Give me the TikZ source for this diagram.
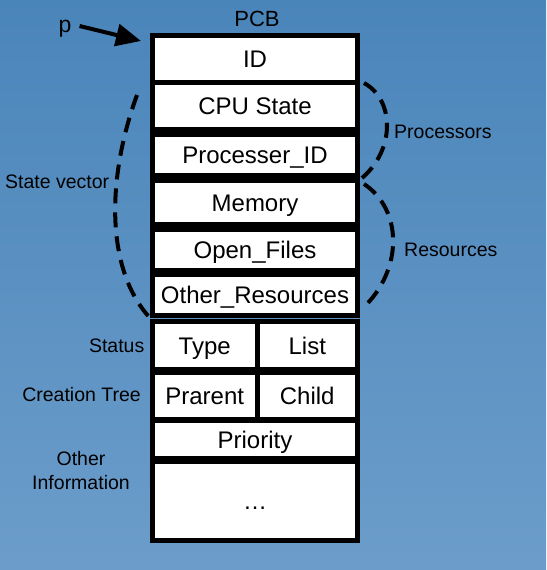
\documentclass[tikz,border=0pt]{standalone}
\usepackage{fontspec}
\setmainfont{Liberation Sans}
\usetikzlibrary{arrows.meta}
\definecolor{bgtop}{HTML}{4A85BA}
\definecolor{bgbot}{HTML}{6C9DCA}
\begin{document}
\begin{tikzpicture}[x=1pt,y=-1pt,
  cell/.style={draw=black, fill=white, line width=5pt, inner sep=0pt,
    font=\fontsize{24}{28}\selectfont, text height=19pt, text depth=1.5pt},
  lbl/.style={inner sep=0pt, font=\fontsize{19.5}{24}\selectfont},
  brace/.style={line width=4pt, dash pattern=on 15pt off 9pt},
  parrow/.style={line width=4pt, -{Triangle[length=25pt,width=22pt]}}]
\useasboundingbox (0,0) rectangle (546,570);
\shade[top color=bgtop, bottom color=bgbot] (0,0) rectangle (546,570);

% cells
\node[cell, minimum width=205pt, minimum height=46.7pt] (id)    at (255,59.15)  {ID};
\node[cell, minimum width=205pt, minimum height=46.7pt] (cpu)   at (255,105.85) {CPU State};
\node[cell, minimum width=205pt, minimum height=41.6pt] (proc)  at (255,155)    {Processer\_ID};
\node[cell, minimum width=205pt, minimum height=43.4pt] (mem)   at (255,202.5)  {Memory};
\node[cell, minimum width=205pt, minimum height=41.6pt] (open)  at (255,250)    {Open\_Files};
\node[cell, minimum width=205pt, minimum height=41.8pt] (other) at (255,294.9)  {Other\_Resources};
\node[cell, minimum width=104.5pt, minimum height=47.7pt] (type) at (204.75,345.35) {Type};
\node[cell, minimum width=100.5pt, minimum height=47.7pt] (list) at (307.25,345.35) {List};
\node[cell, minimum width=104.5pt, minimum height=46.7pt] (parent) at (204.75,395.85) {Prarent};
\node[cell, minimum width=100.5pt, minimum height=46.7pt] (child)  at (307.25,395.85) {Child};
\node[cell, minimum width=205pt, minimum height=38.3pt] (prio)  at (255,439.35) {Priority};
\node[cell, minimum width=205pt, minimum height=79.3pt] (dots)  at (255,501.15) {…};

% titles and labels
\node[inner sep=0pt, font=\fontsize{22}{26}\selectfont] (pcb) at (257,19) {PCB};
\node[inner sep=0pt, font=\fontsize{23}{27}\selectfont] (p) at (65,29) {p};
\coordinate (tip) at (141,41);
\draw[parrow] ([shift={(8,-3)}]p.east) -- (tip);

\node[lbl, anchor=west] (sv) at (5,182) {State vector};
\node[lbl, anchor=west] (procs) at (394,132) {Processors};
\node[lbl, anchor=west] (res) at (404,250) {Resources};
\node[lbl, anchor=east] (status) at (144.5,346) {Status};
\node[lbl, anchor=east] (ctree) at (141,395) {Creation Tree};
\node[lbl, align=center, font=\fontsize{19.5}{24}\selectfont] (oinfo) at (81,471) {Other\\Information};

% dashed braces
\draw[brace] (137,95) .. controls (106,180) and (106,270) .. (150,318);
\draw[brace] (364,83) .. controls (395,100) and (395,150) .. (362,178);
\draw[brace] (364,184) .. controls (403,210) and (403,270) .. (363,308);
\end{tikzpicture}
\end{document}
